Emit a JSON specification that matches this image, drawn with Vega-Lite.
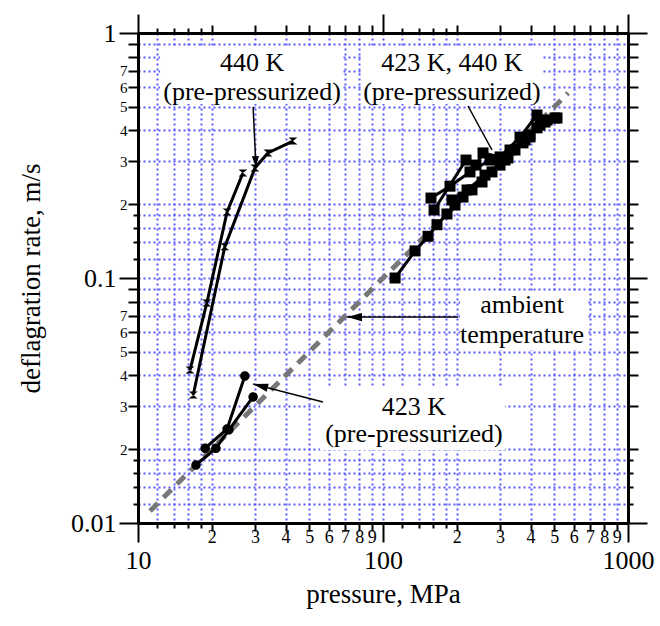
{
  "$schema": "https://vega.github.io/schema/vega-lite/v6.json",
  "width": 490,
  "height": 490,
  "autosize": {"type": "none"},
  "padding": {"left": 138, "top": 33, "right": 32, "bottom": 103},
  "background": "white",
  "config": {
    "view": {"stroke": null},
    "font": "Liberation Serif",
    "axis": {
      "labelFont": "Liberation Serif",
      "titleFont": "Liberation Serif",
      "labelColor": "black",
      "titleColor": "black",
      "titleFontWeight": "normal",
      "domainColor": "black",
      "domainWidth": 3,
      "tickColor": "black",
      "tickWidth": 2,
      "labelOverlap": false,
      "labelFlush": false,
      "labelBound": false
    }
  },
  "datasets": {
    "series": [
      {"g": "440", "run": "A", "i": 1, "p": 16.3, "v": 0.0421},
      {"g": "440", "run": "A", "i": 2, "p": 19.1, "v": 0.0791},
      {"g": "440", "run": "A", "i": 3, "p": 23.1, "v": 0.186},
      {"g": "440", "run": "A", "i": 4, "p": 26.8, "v": 0.268},
      {"g": "440", "run": "B", "i": 1, "p": 16.8, "v": 0.0333},
      {"g": "440", "run": "B", "i": 2, "p": 22.6, "v": 0.134},
      {"g": "440", "run": "B", "i": 3, "p": 30.0, "v": 0.281},
      {"g": "440", "run": "B", "i": 4, "p": 33.9, "v": 0.324},
      {"g": "440", "run": "B", "i": 5, "p": 42.9, "v": 0.362},
      {"g": "423", "run": "C", "i": 1, "p": 18.8, "v": 0.0202},
      {"g": "423", "run": "C", "i": 2, "p": 23.1, "v": 0.0242},
      {"g": "423", "run": "C", "i": 3, "p": 27.3, "v": 0.0398},
      {"g": "423", "run": "D", "i": 1, "p": 17.25, "v": 0.01725},
      {"g": "423", "run": "D", "i": 2, "p": 20.8, "v": 0.0202},
      {"g": "423", "run": "D", "i": 3, "p": 23.5, "v": 0.024},
      {"g": "423", "run": "D", "i": 4, "p": 29.5, "v": 0.0327},
      {"g": "sq", "run": "E", "i": 1, "p": 112.0, "v": 0.100},
      {"g": "sq", "run": "E", "i": 2, "p": 135.1, "v": 0.129},
      {"g": "sq", "run": "E", "i": 3, "p": 152.7, "v": 0.148},
      {"g": "sq", "run": "E", "i": 4, "p": 166.1, "v": 0.165},
      {"g": "sq", "run": "E", "i": 5, "p": 182.4, "v": 0.1825},
      {"g": "sq", "run": "E", "i": 6, "p": 196.7, "v": 0.1986},
      {"g": "sq", "run": "E", "i": 7, "p": 212.1, "v": 0.214},
      {"g": "sq", "run": "E", "i": 8, "p": 230.8, "v": 0.229},
      {"g": "sq", "run": "E", "i": 9, "p": 253.6, "v": 0.2465},
      {"g": "sq", "run": "E", "i": 10, "p": 278.5, "v": 0.271},
      {"g": "sq", "run": "E", "i": 11, "p": 300.3, "v": 0.289},
      {"g": "sq", "run": "E", "i": 12, "p": 323.7, "v": 0.309},
      {"g": "sq", "run": "E", "i": 13, "p": 345.7, "v": 0.333},
      {"g": "sq", "run": "E", "i": 14, "p": 372.8, "v": 0.356},
      {"g": "sq", "run": "E", "i": 15, "p": 398.1, "v": 0.3764},
      {"g": "sq", "run": "E", "i": 16, "p": 425.2, "v": 0.41},
      {"g": "sq", "run": "E", "i": 17, "p": 458.5, "v": 0.433},
      {"g": "sq", "run": "E", "i": 18, "p": 503.6, "v": 0.45},
      {"g": "sq", "run": "F", "i": 1, "p": 157.0, "v": 0.212},
      {"g": "sq", "run": "F", "i": 2, "p": 187.7, "v": 0.237},
      {"g": "sq", "run": "F", "i": 3, "p": 226.5, "v": 0.271},
      {"g": "sq", "run": "F", "i": 4, "p": 273.3, "v": 0.303},
      {"g": "sq", "run": "F", "i": 5, "p": 329.9, "v": 0.333},
      {"g": "sq", "run": "F", "i": 6, "p": 398.1, "v": 0.3835},
      {"g": "sq", "run": "F", "i": 7, "p": 467.1, "v": 0.4415},
      {"g": "sq", "run": "G", "i": 1, "p": 161.6, "v": 0.1895},
      {"g": "sq", "run": "G", "i": 2, "p": 218.2, "v": 0.303},
      {"g": "sq", "run": "G", "i": 3, "p": 239.6, "v": 0.289},
      {"g": "sq", "run": "G", "i": 4, "p": 256.0, "v": 0.324},
      {"g": "sq", "run": "G", "i": 5, "p": 300.3, "v": 0.312},
      {"g": "sq", "run": "G", "i": 6, "p": 362.4, "v": 0.376},
      {"g": "sq", "run": "G", "i": 7, "p": 425.2, "v": 0.4627},
      {"g": "sq", "run": "H", "i": 1, "p": 191.2, "v": 0.2082},
      {"g": "sq", "run": "H", "i": 2, "p": 220.3, "v": 0.2287},
      {"g": "sq", "run": "H", "i": 3, "p": 260.8, "v": 0.263},
      {"g": "sq", "run": "H", "i": 4, "p": 314.8, "v": 0.303},
      {"g": "sq", "run": "H", "i": 5, "p": 379.9, "v": 0.3659},
      {"g": "sq", "run": "H", "i": 6, "p": 437.4, "v": 0.421},
      {"g": "sq", "run": "H", "i": 7, "p": 513.1, "v": 0.4498}
    ],
    "ambient": [
      {"p": 11.2, "v": 0.0112},
      {"p": 570, "v": 0.569}
    ],
    "boxes": [
      {"p1": 12.3, "p2": 68.7, "v1": 0.8686, "v2": 0.5129},
      {"p1": 82.1, "p2": 449.9, "v1": 0.8686, "v2": 0.5129},
      {"p1": 206.2, "p2": 686.6, "v1": 0.0877, "v2": 0.0508},
      {"p1": 55.3, "p2": 314.8, "v1": 0.0356, "v2": 0.01986}
    ],
    "arrows": [
      {"name": "440", "p1": 29.5, "v1": 0.4989, "p2": 30.3, "v2": 0.2838},
      {"name": "both", "p1": 222.3, "v1": 0.5036, "p2": 278.5, "v2": 0.333},
      {"name": "ambient", "p1": 202.3, "v1": 0.0693, "p2": 71.3, "v2": 0.0693},
      {"name": "423", "p1": 56.9, "v1": 0.0312, "p2": 29.5, "v2": 0.0369}
    ],
    "labels": [
      {"text": "440 K", "p": 29.2, "v": 0.6996},
      {"text": "(pre-pressurized)", "p": 29.2, "v": 0.5327},
      {"text": "423 K, 440 K", "p": 191.2, "v": 0.6996},
      {"text": "(pre-pressurized)", "p": 191.2, "v": 0.5327},
      {"text": "ambient", "p": 369.3, "v": 0.072},
      {"text": "temperature", "p": 369.3, "v": 0.0543},
      {"text": "423 K", "p": 133.8, "v": 0.0276},
      {"text": "(pre-pressurized)", "p": 133.8, "v": 0.0214}
    ]
  },
  "layer": [
    {
      "data": {"name": "boxes"},
      "mark": {"type": "rect", "fill": "white", "stroke": null},
      "encoding": {
        "x": {
          "field": "p1", "type": "quantitative",
          "scale": {"type": "log", "domain": [10, 1000], "nice": false},
          "axis": {
            "orient": "bottom",
            "title": "pressure, MPa",
            "titleFontSize": 27,
            "titlePadding": 8,
            "values": [10,12,14,16,18,20,30,40,50,60,70,80,90,100,120,140,160,180,200,300,400,500,600,700,800,900,1000],
            "labelExpr": "round(datum.value/pow(10,floor(log(datum.value)/LN10+1e-6))*10) == 10 ? format(datum.value,'~g') : (round(datum.value/pow(10,floor(log(datum.value)/LN10+1e-6))*10) % 10 == 0 ? format(round(datum.value/pow(10,floor(log(datum.value)/LN10+1e-6))),'d') : '')",
            "labelFontSize": {"condition": {"test": "round(datum.value/pow(10,floor(log(datum.value)/LN10+1e-6))*10) == 10", "value": 26}, "value": 18},
            "labelPadding": {"condition": {"test": "round(datum.value/pow(10,floor(log(datum.value)/LN10+1e-6))*10) == 10", "value": 5}, "value": -3},
            "tickSize": {"condition": [{"test": "round(datum.value/pow(10,floor(log(datum.value)/LN10+1e-6))*10) == 10", "value": 19}, {"test": "round(datum.value/pow(10,floor(log(datum.value)/LN10+1e-6))*10) % 10 == 0", "value": 8}], "value": 5},
            "grid": true,
            "gridColor": "#5a5aff",
            "gridDash": [2, 3],
            "gridWidth": 2
          }
        },
        "x2": {"field": "p2"},
        "y": {
          "field": "v1", "type": "quantitative",
          "scale": {"type": "log", "domain": [0.01, 1], "nice": false},
          "axis": {
            "orient": "left",
            "title": "deflagration rate, m/s",
            "titleFontSize": 27,
            "titlePadding": 25,
            "values": [0.01,0.012,0.014,0.016,0.018,0.02,0.03,0.04,0.05,0.06,0.07,0.08,0.09,0.1,0.12,0.14,0.16,0.18,0.2,0.3,0.4,0.5,0.6,0.7,0.8,0.9,1],
            "labelExpr": "round(datum.value/pow(10,floor(log(datum.value)/LN10+1e-6))*10) == 10 ? format(datum.value,'~g') : (round(datum.value/pow(10,floor(log(datum.value)/LN10+1e-6))*10) % 10 == 0 && round(datum.value/pow(10,floor(log(datum.value)/LN10+1e-6))*10) <= 70 ? format(round(datum.value/pow(10,floor(log(datum.value)/LN10+1e-6))),'d') : '')",
            "labelFontSize": {"condition": {"test": "round(datum.value/pow(10,floor(log(datum.value)/LN10+1e-6))*10) == 10", "value": 26}, "value": 15},
            "labelPadding": {"condition": {"test": "round(datum.value/pow(10,floor(log(datum.value)/LN10+1e-6))*10) == 10", "value": 3}, "value": 1},
            "tickSize": {"condition": [{"test": "round(datum.value/pow(10,floor(log(datum.value)/LN10+1e-6))*10) == 10", "value": 19}, {"test": "round(datum.value/pow(10,floor(log(datum.value)/LN10+1e-6))*10) % 10 == 0", "value": 10}], "value": 5},
            "grid": true,
            "gridColor": "#5a5aff",
            "gridDash": [2, 3],
            "gridWidth": 2
          }
        },
        "y2": {"field": "v2"}
      }
    },
    {
      "data": {"name": "ambient"},
      "mark": {"type": "line", "color": "#777777", "strokeWidth": 5, "strokeDash": [11, 8]},
      "encoding": {
        "x": {
          "field": "p", "type": "quantitative",
          "scale": {"type": "log", "domain": [10, 1000], "nice": false},
          "axis": {
            "orient": "top", "title": null, "labels": false, "grid": false,
            "values": [10,12,14,16,18,20,30,40,50,60,70,80,90,100,120,140,160,180,200,300,400,500,600,700,800,900,1000],
            "tickSize": {"condition": [{"test": "round(datum.value/pow(10,floor(log(datum.value)/LN10+1e-6))*10) == 10", "value": 19}, {"test": "round(datum.value/pow(10,floor(log(datum.value)/LN10+1e-6))*10) % 10 == 0", "value": 8}], "value": 5}
          }
        },
        "y": {
          "field": "v", "type": "quantitative",
          "scale": {"type": "log", "domain": [0.01, 1], "nice": false},
          "axis": {
            "orient": "right", "title": null, "labels": false, "grid": false,
            "values": [0.01,0.012,0.014,0.016,0.018,0.02,0.03,0.04,0.05,0.06,0.07,0.08,0.09,0.1,0.12,0.14,0.16,0.18,0.2,0.3,0.4,0.5,0.6,0.7,0.8,0.9,1],
            "tickSize": {"condition": [{"test": "round(datum.value/pow(10,floor(log(datum.value)/LN10+1e-6))*10) == 10", "value": 19}, {"test": "round(datum.value/pow(10,floor(log(datum.value)/LN10+1e-6))*10) % 10 == 0", "value": 10}], "value": 5}
          }
        }
      }
    },
    {
      "data": {"name": "series"},
      "mark": {"type": "line", "color": "black", "strokeWidth": 3},
      "encoding": {
        "x": {"field": "p", "type": "quantitative", "scale": {"type": "log", "domain": [10, 1000], "nice": false}, "axis": null},
        "y": {"field": "v", "type": "quantitative", "scale": {"type": "log", "domain": [0.01, 1], "nice": false}, "axis": null},
        "detail": {"field": "run"},
        "order": {"field": "i"}
      }
    },
    {
      "data": {"name": "series"},
      "mark": {"type": "point", "filled": true, "color": "black", "opacity": 1, "size": 100},
      "encoding": {
        "x": {"field": "p", "type": "quantitative", "scale": {"type": "log", "domain": [10, 1000], "nice": false}, "axis": null},
        "y": {"field": "v", "type": "quantitative", "scale": {"type": "log", "domain": [0.01, 1], "nice": false}, "axis": null},
        "shape": {"field": "g", "type": "nominal", "legend": null, "scale": {"domain": ["440", "423", "sq"], "range": ["M-0.9,-0.7L0.9,-0.7L-0.9,0.7L0.9,0.7Z", "M-0.95,0A0.95,0.95,0,1,1,0.95,0A0.95,0.95,0,1,1,-0.95,0Z", "M-1.1,-1.1L1.1,-1.1L1.1,1.1L-1.1,1.1Z"]}}
      }
    },
    {
      "data": {"name": "arrows"},
      "mark": {"type": "rule", "color": "black", "strokeWidth": 1.5},
      "encoding": {
        "x": {"field": "p1", "type": "quantitative", "scale": {"type": "log", "domain": [10, 1000], "nice": false}, "axis": null},
        "y": {"field": "v1", "type": "quantitative", "scale": {"type": "log", "domain": [0.01, 1], "nice": false}, "axis": null},
        "x2": {"field": "p2"},
        "y2": {"field": "v2"}
      }
    },
    {
      "data": {"name": "arrows"},
      "transform": [{"filter": "datum.name == 'ambient'"}],
      "mark": {"type": "point", "shape": "M0,0L2,-0.55L2,0.55Z", "filled": true, "color": "black", "opacity": 1, "size": 225, "angle": 0},
      "encoding": {
        "x": {"field": "p2", "type": "quantitative", "scale": {"type": "log", "domain": [10, 1000], "nice": false}, "axis": null},
        "y": {"field": "v2", "type": "quantitative", "scale": {"type": "log", "domain": [0.01, 1], "nice": false}, "axis": null}
      }
    },
    {
      "data": {"name": "arrows"},
      "transform": [{"filter": "datum.name == '423'"}],
      "mark": {"type": "point", "shape": "M0,0L2,-0.55L2,0.55Z", "filled": true, "color": "black", "opacity": 1, "size": 225, "angle": 14},
      "encoding": {
        "x": {"field": "p2", "type": "quantitative", "scale": {"type": "log", "domain": [10, 1000], "nice": false}, "axis": null},
        "y": {"field": "v2", "type": "quantitative", "scale": {"type": "log", "domain": [0.01, 1], "nice": false}, "axis": null}
      }
    },
    {
      "data": {"name": "arrows"},
      "transform": [{"filter": "datum.name == '440'"}],
      "mark": {"type": "point", "shape": "M0,0L2,-0.65L2,0.65Z", "filled": true, "color": "black", "opacity": 1, "size": 120, "angle": -93},
      "encoding": {
        "x": {"field": "p2", "type": "quantitative", "scale": {"type": "log", "domain": [10, 1000], "nice": false}, "axis": null},
        "y": {"field": "v2", "type": "quantitative", "scale": {"type": "log", "domain": [0.01, 1], "nice": false}, "axis": null}
      }
    },
    {
      "data": {"name": "labels"},
      "mark": {"type": "text", "font": "Liberation Serif", "fontSize": 26, "align": "center", "baseline": "alphabetic", "color": "black"},
      "encoding": {
        "x": {"field": "p", "type": "quantitative", "scale": {"type": "log", "domain": [10, 1000], "nice": false}, "axis": null},
        "y": {"field": "v", "type": "quantitative", "scale": {"type": "log", "domain": [0.01, 1], "nice": false}, "axis": null},
        "text": {"field": "text"}
      }
    }
  ],
  "resolve": {"axis": {"x": "independent", "y": "independent"}}
}
